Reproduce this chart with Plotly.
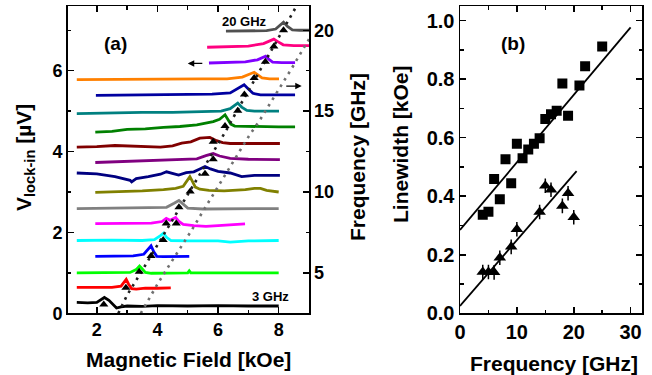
import plotly.graph_objects as go

W, H = 652, 375

# ---------------- panel (a): FMR spectra, offset by frequency ----------------
freqs = [3, 4, 5, 6, 7, 8, 9, 10, 11, 12, 13, 14, 15, 16, 17, 18, 19, 20]
colors = ["#000000", "#FF0000", "#00FF00", "#0000FF", "#00FFFF", "#FF00FF",
          "#808080", "#808000", "#000080", "#800080", "#800000", "#008000",
          "#008080", "#0000A0", "#FF8000", "#8000FF", "#FF0080", "#505050"]

H03 = [1.34, 1.7, 2.0, 2.12, 2.25, 2.4, 2.55, 2.65, 2.8, 3.0, 3.5, 4.0, 5.0, 6.0, 7.0, 8.0]
V03 = [0.27, 0.26, 0.27, 0.33, 0.39, 0.32, 0.19, 0.13, 0.16, 0.18, 0.17, 0.19, 0.18, 0.19, 0.18, 0.18]
H04 = [1.34, 2.0, 2.5, 2.8, 2.9, 2.97, 3.05, 3.15, 3.3, 3.6, 4.0, 4.44]
V04 = [0.64, 0.63, 0.64, 0.67, 0.78, 0.84, 0.72, 0.61, 0.60, 0.62, 0.62, 0.63]
H05 = [1.34, 2.5, 3.1, 3.3, 3.41, 3.5, 3.6, 3.8, 4.5, 5.0, 5.05, 5.1, 6.0, 7.0, 8.0]
V05 = [1.00, 1.00, 1.01, 1.08, 1.17, 1.10, 1.01, 0.99, 1.00, 1.00, 1.05, 1.00, 1.00, 1.00, 1.00]
H06 = [1.95, 2.5, 3.2, 3.55, 3.7, 3.79, 3.88, 3.98, 4.2, 4.6, 5.05]
V06 = [1.41, 1.41, 1.42, 1.46, 1.60, 1.67, 1.52, 1.41, 1.40, 1.41, 1.41]
H07 = [1.34, 2.5, 3.5, 3.9, 4.1, 4.2, 4.3, 4.45, 5.0, 6.0, 6.4, 6.6, 7.0, 8.0]
V07 = [1.80, 1.81, 1.80, 1.82, 1.92, 1.98, 1.88, 1.80, 1.79, 1.79, 1.76, 1.77, 1.79, 1.80]
H08 = [1.95, 3.0, 3.8, 4.15, 4.29, 4.42, 4.52, 4.6, 4.7, 4.85, 5.2, 5.6, 6.0, 6.5, 6.89]
V08 = [2.22, 2.22, 2.23, 2.27, 2.35, 2.30, 2.33, 2.37, 2.28, 2.20, 2.17, 2.15, 2.17, 2.20, 2.21]
H09 = [1.34, 2.5, 3.5, 4.3, 4.55, 4.71, 4.85, 5.0, 5.5, 6.5, 7.5, 8.0]
V09 = [2.59, 2.60, 2.60, 2.62, 2.72, 2.79, 2.70, 2.60, 2.58, 2.59, 2.59, 2.59]
H10 = [1.95, 2.5, 3.5, 4.2, 4.6, 4.85, 4.97, 5.07, 5.15, 5.25, 5.4, 5.7, 6.2, 6.6, 6.9, 7.2, 7.4, 7.6, 8.0]
V10 = [2.99, 3.00, 3.03, 3.06, 3.09, 3.14, 3.28, 3.38, 3.27, 3.12, 3.07, 3.04, 3.03, 3.04, 3.06, 3.09, 3.09, 3.04, 3.00]
H11 = [1.34, 2.0, 2.6, 3.1, 3.15, 3.3, 3.7, 4.1, 4.3, 4.45, 4.7, 4.95, 5.2, 5.4, 5.57, 5.75, 6.0, 6.4, 6.78, 7.2, 8.04]
V11 = [3.47, 3.45, 3.38, 3.29, 3.25, 3.33, 3.38, 3.44, 3.50, 3.47, 3.42, 3.48, 3.50, 3.57, 3.63, 3.57, 3.51, 3.47, 3.38, 3.41, 3.41]
H12 = [1.95, 2.8, 3.6, 4.4, 4.9, 5.3, 5.6, 5.84, 6.05, 6.4, 7.0, 7.5, 8.04]
V12 = [3.73, 3.75, 3.77, 3.79, 3.80, 3.82, 3.90, 3.95, 3.89, 3.83, 3.81, 3.80, 3.80]
H13 = [1.34, 2.0, 2.6, 3.2, 3.8, 4.1, 4.5, 4.8, 5.1, 5.4, 5.73, 5.95, 6.15, 6.4, 7.0, 8.04]
V13 = [4.11, 4.12, 4.15, 4.13, 4.12, 4.11, 4.14, 4.21, 4.24, 4.33, 4.35, 4.27, 4.22, 4.20, 4.20, 4.20]
H14 = [1.95, 2.5, 3.0, 3.6, 4.2, 4.74, 5.3, 5.84, 6.05, 6.15, 6.23, 6.32, 6.42, 6.55, 7.0, 7.5, 8.0, 8.54]
V14 = [4.48, 4.50, 4.55, 4.56, 4.60, 4.62, 4.66, 4.74, 4.80, 4.86, 4.91, 4.80, 4.68, 4.63, 4.62, 4.62, 4.61, 4.61]
H15 = [1.34, 2.5, 3.5, 4.5, 5.5, 6.1, 6.4, 6.55, 6.65, 6.78, 6.95, 7.2, 7.6, 8.01]
V15 = [4.94, 4.96, 4.97, 4.97, 4.98, 5.00, 5.06, 5.15, 5.20, 5.10, 5.02, 5.00, 5.00, 5.00]
H16 = [1.97, 3.0, 4.0, 5.0, 5.8, 6.4, 6.65, 6.86, 7.0, 7.15, 7.4, 8.0, 8.54]
V16 = [5.39, 5.40, 5.40, 5.41, 5.42, 5.45, 5.57, 5.65, 5.55, 5.44, 5.40, 5.40, 5.40]
H17 = [1.34, 2.5, 3.5, 4.5, 5.5, 6.3, 6.8, 7.05, 7.19, 7.3, 7.45, 7.7, 8.01]
V17 = [5.78, 5.79, 5.79, 5.79, 5.80, 5.80, 5.84, 5.92, 5.96, 5.90, 5.82, 5.80, 5.80]
H18 = [5.7, 6.3, 6.9, 7.3, 7.45, 7.57, 7.68, 7.8, 8.1, 8.54]
V18 = [6.19, 6.20, 6.22, 6.27, 6.33, 6.36, 6.28, 6.21, 6.20, 6.20]
H19 = [5.64, 6.3, 7.0, 7.5, 7.7, 7.84, 7.97, 8.15, 8.5, 9.0]
V19 = [6.58, 6.59, 6.61, 6.67, 6.74, 6.78, 6.72, 6.64, 6.62, 6.62]
H20 = [6.26, 7.0, 7.6, 7.9, 8.05, 8.16, 8.28, 8.45, 8.7, 9.0]
V20 = [6.98, 6.98, 6.99, 7.03, 7.12, 7.20, 7.10, 7.01, 7.00, 7.00]

spectra_H = [H03, H04, H05, H06, H07, H08, H09, H10, H11, H12, H13, H14, H15, H16, H17, H18, H19, H20]
spectra_V = [V03, V04, V05, V06, V07, V08, V09, V10, V11, V12, V13, V14, V15, V16, V17, V18, V19, V20]

# resonance fields (triangles)
res_H = [2.23, 2.96, 3.40, 3.79, 4.19, 4.29, 4.62, 4.71, 5.08, 5.57, 5.84, 5.84, 6.23, 6.65, 6.87, 7.19, 7.56, 7.84, 8.16]
res_V = [0.22, 0.63, 1.03, 1.42, 1.81, 2.22, 2.22, 2.62, 3.01, 3.45, 3.81, 4.24, 4.63, 5.01, 5.41, 5.82, 6.22, 6.60, 7.00]

# fitted dispersion curves (dotted)
fit1_H = [2.71, 3.0, 3.45, 3.85, 4.25, 4.65, 5.05, 5.45, 5.85, 6.25, 6.62, 7.0, 7.38, 7.76, 8.14, 8.59]
fit1_V = [0.0, 0.45, 1.0, 1.5, 2.0, 2.5, 3.0, 3.5, 4.0, 4.5, 5.0, 5.5, 6.0, 6.5, 7.0, 7.6]
fit2_H = [3.45, 3.6, 4.0, 4.4, 4.75, 5.1, 5.5, 5.8, 6.06, 6.39, 6.72, 7.05, 7.38, 7.7, 8.04, 8.4, 9.0]
fit2_V = [0.0, 0.2, 0.72, 1.2, 1.6, 2.02, 2.52, 2.89, 3.24, 3.62, 4.02, 4.42, 4.78, 5.17, 5.58, 6.02, 6.78]

# ---------------- panel (b): linewidth vs frequency ----------------
sq_f = [4, 5, 6, 7, 8, 9, 10, 11, 12, 13, 14, 15, 16, 17, 18, 19, 21, 22, 25]
sq_w = [0.337, 0.347, 0.459, 0.39, 0.526, 0.444, 0.579, 0.53, 0.56, 0.579, 0.598, 0.664,
        0.68, 0.692, 0.785, 0.675, 0.778, 0.844, 0.912]
tri_f = [4, 5, 6, 7, 9, 10, 14, 15, 16, 18, 19, 20]
tri_w = [0.141, 0.141, 0.14, 0.19, 0.227, 0.287, 0.346, 0.436, 0.422, 0.367, 0.41, 0.328]
tri_err = [0.025] * len(tri_f)
fitA_f = [0, 30]
fitA_w = [0.285, 0.977]
fitB_f = [0, 20.5]
fitB_w = [0.025, 0.486]

FONT = "Liberation Sans, Arial, sans-serif"

fig = go.Figure()

for f, c, hx, vy in zip(freqs, colors, spectra_H, spectra_V):
    fig.add_trace(go.Scatter(x=hx, y=vy, mode="lines", line=dict(color=c, width=2.8),
                             xaxis="x", yaxis="y", showlegend=False, name=f"{f} GHz"))

fig.add_trace(go.Scatter(x=fit1_H, y=fit1_V, mode="lines",
                         line=dict(color="#202020", width=2.6, dash="2.6px,5px"),
                         xaxis="x", yaxis="y", showlegend=False))
fig.add_trace(go.Scatter(x=fit2_H, y=fit2_V, mode="lines",
                         line=dict(color="#707070", width=2.6, dash="2.6px,5px"),
                         xaxis="x", yaxis="y", showlegend=False))
fig.add_trace(go.Scatter(x=res_H, y=res_V, mode="markers",
                         marker=dict(symbol="triangle-up", size=8, color="black"),
                         xaxis="x", yaxis="y", showlegend=False))
# invisible trace to activate right axis
fig.add_trace(go.Scatter(x=[None], y=[None], xaxis="x", yaxis="y2", showlegend=False))

# panel b
fig.add_trace(go.Scatter(x=fitA_f, y=fitA_w, mode="lines", line=dict(color="black", width=1.8),
                         xaxis="x2", yaxis="y3", showlegend=False))
fig.add_trace(go.Scatter(x=fitB_f, y=fitB_w, mode="lines", line=dict(color="black", width=1.8),
                         xaxis="x2", yaxis="y3", showlegend=False))
fig.add_trace(go.Scatter(x=sq_f, y=sq_w, mode="markers",
                         marker=dict(symbol="square", size=10, color="black"),
                         xaxis="x2", yaxis="y3", showlegend=False))
fig.add_trace(go.Scatter(x=tri_f, y=tri_w, mode="markers",
                         marker=dict(symbol="triangle-up", size=11, color="black"),
                         error_y=dict(type="data", array=tri_err, color="black", thickness=1.5, width=0),
                         xaxis="x2", yaxis="y3", showlegend=False))


def ax_common(size):
    return dict(showgrid=False, zeroline=False, showline=True, linecolor="black", linewidth=1.5,
                ticks="inside", ticklen=6, tickwidth=1.5, tickcolor="black", automargin=False,
                tickfont=dict(family=FONT, size=size, color="black", weight="bold"))


def minor(dt):
    return dict(dtick=dt, ticks="inside", ticklen=3.5, tickwidth=1.5, tickcolor="black")


xdomA = [67.7 / W, 309 / W]
xdomB = [460 / W, 642 / W]
ydom = [1 - 313.3 / H, 1 - 6 / H]

fig.update_layout(
    template="none",
    width=W, height=H, autosize=False,
    margin=dict(l=0, r=0, t=0, b=0, pad=0, autoexpand=False),
    paper_bgcolor="white", plot_bgcolor="white", showlegend=False,
    xaxis=dict(domain=xdomA, range=[1.04, 9.0], anchor="y", dtick=2, tick0=0, mirror="ticks",
               minor=minor(1), **ax_common(18)),
    yaxis=dict(domain=ydom, range=[0, 7.6], anchor="x", dtick=2, tick0=0, mirror=True,
               minor=minor(1), **ax_common(18)),
    yaxis2=dict(range=[2.5, 21.5], overlaying="y", side="right", anchor="x", dtick=5, tick0=0,
                minor=minor(2.5), **ax_common(18)),
    xaxis2=dict(domain=xdomB, range=[0, 32], anchor="y3", dtick=10, tick0=0, mirror="ticks",
                minor=minor(5), **ax_common(20)),
    yaxis3=dict(domain=ydom, range=[0, 1.05], anchor="x2", dtick=0.2, tick0=0, mirror="ticks",
                tickformat=".1f", minor=minor(0.1), **ax_common(20)),
)


def px(xp, yp):
    return xp / W, 1 - yp / H


anns = []


def add_text(text, xp, yp, size, angle=0):
    x, y = px(xp, yp)
    anns.append(dict(text=text, x=x, y=y, xref="paper", yref="paper", showarrow=False,
                     xanchor="center", yanchor="middle", textangle=angle,
                     font=dict(family=FONT, size=size, color="black", weight="bold")))


add_text("V<sub>lock-in</sub> [µV]", 25, 158, 21, -90)
add_text("Magnetic Field [kOe]", 188, 359, 21)
add_text("Frequency [GHz]", 357, 157, 21, -90)
add_text("Linewidth [kOe]", 400, 144, 21, -90)
add_text("Frequency [GHz]", 554, 363, 21)
add_text("(a)", 115, 43, 19)
add_text("(b)", 513, 43, 19)
add_text("20 GHz", 244, 21, 13)
add_text("3 GHz", 270, 296, 13)

# arrows indicating the axes
anns.append(dict(x=5.0, y=6.18, ax=5.53, ay=6.18, xref="x", yref="y", axref="x", ayref="y",
                 text="", showarrow=True, arrowhead=2, arrowsize=1, arrowwidth=1.3, arrowcolor="black",
                 standoff=0, startstandoff=0))
anns.append(dict(x=8.76, y=5.62, ax=8.2, ay=5.62, xref="x", yref="y", axref="x", ayref="y",
                 text="", showarrow=True, arrowhead=2, arrowsize=1, arrowwidth=1.3, arrowcolor="black",
                 standoff=0, startstandoff=0))

fig.update_layout(annotations=anns)

fig.write_html("out.html", config={"displayModeBar": False, "staticPlot": True},
               post_script="document.body.style.margin='0px';document.body.style.padding='0px';")
